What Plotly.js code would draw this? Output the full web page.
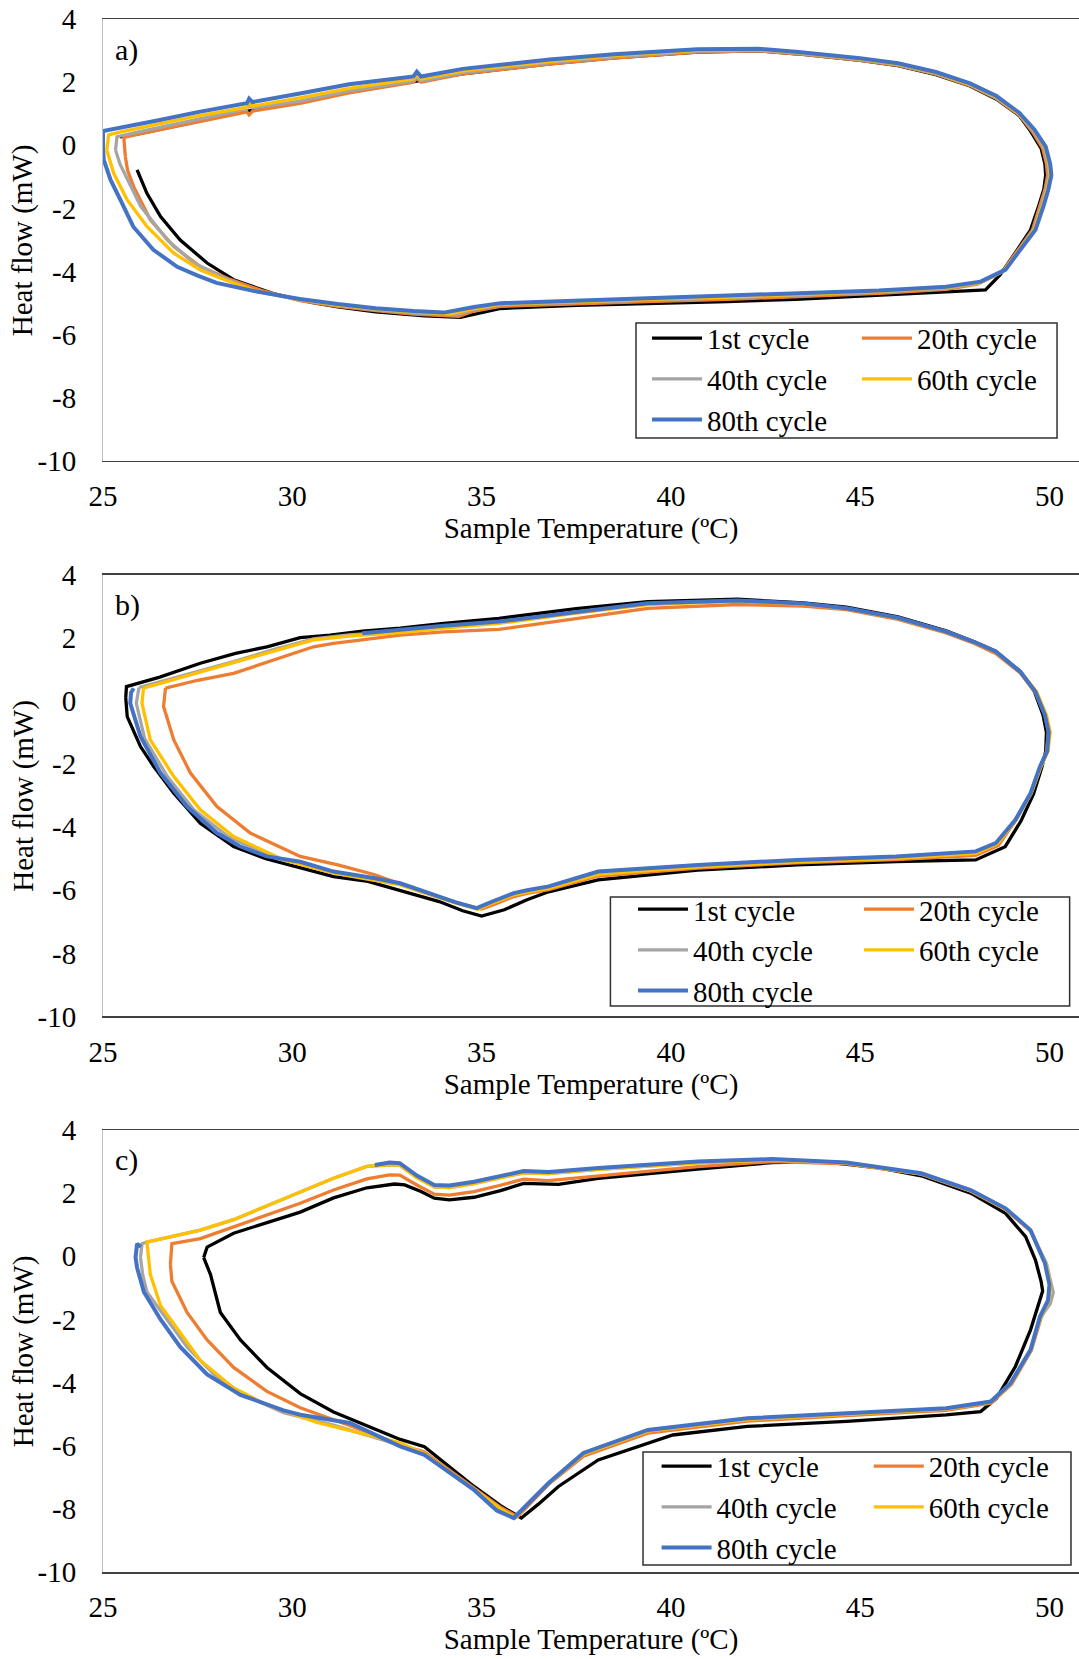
<!DOCTYPE html>
<html><head><meta charset="utf-8">
<script src="https://cdn.plot.ly/plotly-3.0.1.min.js"></script>
<style>html,body{margin:0;padding:0;background:#fff;} #chart{width:1079px;height:1659px;}</style>
</head><body><div id="chart"></div>
<script>
// ---------- labels ----------
const cycleNames = ['1st cycle', '20th cycle', '40th cycle', '60th cycle', '80th cycle'];
const cycleColors = ['#000000', '#ED7D31', '#A5A5A5', '#FFC000', '#4472C4'];
const xTickVals = [25, 30, 35, 40, 45, 50];
const xTickText = ['25', '30', '35', '40', '45', '50'];
const yTickVals = [-10, -8, -6, -4, -2, 0, 2, 4];
const yTickText = ['-10', '-8', '-6', '-4', '-2', '0', '2', '4'];
const panelLabels = ['a)', 'b)', 'c)'];
const xTitle = 'Sample Temperature (ºC)';
const yTitle = 'Heat flow (mW)';

// ---------- panel a ----------
const a1_T = [25.45, 26.0, 27.0, 28.0, 28.8, 30.2, 31.5, 33.2, 34.5, 36.8, 38.5, 40.7, 42.3, 43.3, 45.0, 46.0, 47.0, 47.9, 48.6, 49.2, 49.5, 49.78, 49.88, 49.9, 49.85, 49.72, 49.5, 49.1, 48.7, 48.31, 47.27, 45.5, 43.3, 41.5, 39.4, 37.5, 35.5, 35.0, 34.44, 33.5, 32.2, 31.2, 30.5, 29.5, 28.45, 27.75, 27.04, 26.52, 26.16, 25.9];
const a1_HF = [0.27, 0.38, 0.63, 0.88, 1.08, 1.36, 1.68, 2.02, 2.26, 2.58, 2.77, 2.95, 2.99, 2.9, 2.69, 2.52, 2.24, 1.88, 1.46, 0.94, 0.45, -0.1, -0.6, -0.95, -1.4, -1.9, -2.68, -3.4, -4.1, -4.58, -4.64, -4.75, -4.88, -4.95, -5.0, -5.07, -5.17, -5.3, -5.45, -5.4, -5.28, -5.12, -4.98, -4.7, -4.26, -3.73, -3.0, -2.26, -1.52, -0.78];

const a20_T = [25.59, 25.55, 26.0, 27.0, 28.0, 28.8, 28.86, 28.95, 30.2, 31.5, 33.2, 33.29, 33.4, 34.5, 36.8, 38.5, 40.7, 42.3, 43.3, 45.0, 46.0, 47.0, 47.9, 48.6, 49.2, 49.55, 49.82, 49.92, 49.95, 49.88, 49.75, 49.55, 49.15, 48.75, 48.1, 47.27, 45.5, 43.3, 41.5, 39.4, 37.5, 35.5, 34.8, 34.4, 33.2, 32.2, 31.2, 30.2, 29.2, 28.3, 27.57, 26.87, 26.25, 25.81, 25.65, 25.59];
const a20_HF = [-0.36, 0.25, 0.37, 0.62, 0.87, 1.06, 0.96, 1.08, 1.33, 1.66, 2.0, 2.12, 2.0, 2.26, 2.57, 2.76, 2.95, 2.99, 2.9, 2.69, 2.53, 2.25, 1.89, 1.48, 0.96, 0.43, -0.1, -0.6, -0.95, -1.4, -1.9, -2.68, -3.35, -4.01, -4.4, -4.56, -4.69, -4.8, -4.88, -4.95, -5.02, -5.1, -5.25, -5.42, -5.35, -5.24, -5.1, -4.92, -4.6, -4.22, -3.84, -3.21, -2.36, -1.31, -0.8, -0.36];

const a40_T = [25.33, 25.37, 26.0, 27.0, 28.0, 28.8, 28.86, 28.95, 30.2, 31.5, 33.2, 33.29, 33.4, 34.5, 36.8, 38.5, 40.7, 42.3, 43.3, 45.0, 46.0, 47.0, 47.9, 48.6, 49.2, 49.58, 49.86, 49.96, 49.99, 49.91, 49.79, 49.58, 49.2, 48.8, 48.14, 47.27, 45.5, 43.3, 41.5, 39.4, 37.5, 35.5, 34.8, 34.3, 33.2, 32.2, 31.2, 30.2, 29.0, 28.2, 27.4, 26.7, 26.0, 25.64, 25.45, 25.33];
const a40_HF = [-0.15, 0.27, 0.44, 0.7, 0.96, 1.15, 1.28, 1.18, 1.4, 1.72, 2.04, 2.18, 2.04, 2.3, 2.62, 2.8, 2.98, 3.01, 2.92, 2.71, 2.55, 2.27, 1.91, 1.5, 0.98, 0.45, -0.08, -0.6, -0.95, -1.4, -1.9, -2.68, -3.33, -3.98, -4.37, -4.53, -4.65, -4.75, -4.83, -4.9, -4.97, -5.05, -5.2, -5.37, -5.31, -5.21, -5.07, -4.9, -4.62, -4.2, -3.73, -3.0, -1.94, -1.1, -0.6, -0.15];

const a60_T = [25.1, 25.15, 25.5, 26.5, 27.5, 28.8, 28.86, 28.95, 30.2, 31.5, 33.2, 33.29, 33.4, 34.5, 36.8, 38.5, 40.7, 42.3, 43.3, 45.0, 46.0, 47.0, 47.9, 48.6, 49.2, 49.6, 49.88, 49.99, 50.02, 49.94, 49.82, 49.6, 49.21, 48.81, 48.16, 47.27, 45.5, 43.3, 41.5, 39.4, 37.5, 35.5, 34.8, 34.2, 33.2, 32.2, 31.2, 30.2, 29.0, 28.3, 27.57, 26.87, 26.16, 25.64, 25.28, 25.1];
const a60_HF = [-0.15, 0.33, 0.43, 0.68, 0.93, 1.2, 1.34, 1.24, 1.5, 1.8, 2.1, 2.24, 2.1, 2.36, 2.66, 2.84, 3.01, 3.03, 2.94, 2.73, 2.57, 2.29, 1.93, 1.53, 1.0, 0.47, -0.06, -0.6, -0.95, -1.4, -1.9, -2.68, -3.32, -3.96, -4.35, -4.51, -4.63, -4.73, -4.81, -4.88, -4.95, -5.03, -5.17, -5.34, -5.28, -5.19, -5.06, -4.89, -4.6, -4.3, -3.95, -3.42, -2.57, -1.73, -0.88, -0.15];

const a80_T = [25.02, 25.0, 25.0, 25.5, 26.5, 27.5, 28.8, 28.86, 28.95, 30.2, 31.5, 33.2, 33.29, 33.4, 34.5, 36.8, 38.5, 40.7, 42.3, 43.3, 45.0, 46.0, 47.0, 47.9, 48.6, 49.2, 49.6, 49.9, 50.02, 50.05, 49.97, 49.85, 49.63, 49.23, 48.84, 48.18, 47.27, 45.5, 43.3, 41.5, 39.4, 37.5, 35.5, 34.8, 34.0, 33.2, 32.2, 31.2, 30.2, 29.0, 28.0, 27.5, 26.96, 26.33, 25.8, 25.46, 25.2, 25.02];
const a80_HF = [-0.46, -0.1, 0.45, 0.56, 0.8, 1.05, 1.33, 1.48, 1.37, 1.64, 1.93, 2.18, 2.33, 2.18, 2.42, 2.72, 2.88, 3.04, 3.06, 2.96, 2.76, 2.6, 2.32, 1.96, 1.56, 1.03, 0.5, -0.04, -0.6, -0.95, -1.4, -1.9, -2.68, -3.31, -3.94, -4.32, -4.48, -4.6, -4.69, -4.77, -4.85, -4.92, -5.0, -5.12, -5.3, -5.25, -5.16, -5.03, -4.87, -4.62, -4.36, -4.13, -3.85, -3.31, -2.58, -1.73, -1.1, -0.46];

// ---------- panel b ----------
const b1_T = [25.6, 25.62, 26.5, 27.57, 28.5, 29.33, 30.21, 31.0, 31.85, 32.85, 34.0, 35.46, 37.5, 39.39, 41.76, 43.5, 44.64, 46.0, 47.27, 48.0, 48.58, 49.23, 49.6, 49.83, 49.92, 49.9, 49.8, 49.58, 49.25, 48.83, 48.05, 45.95, 43.33, 40.71, 38.08, 36.77, 36.2, 35.6, 35.0, 34.5, 33.88, 32.85, 32.0, 31.09, 30.2, 29.3, 28.45, 27.57, 26.87, 26.34, 25.99, 25.64, 25.6];
const b1_HF = [0.1, 0.45, 0.75, 1.19, 1.5, 1.71, 2.0, 2.08, 2.21, 2.3, 2.45, 2.61, 2.92, 3.14, 3.22, 3.1, 2.97, 2.66, 2.22, 1.88, 1.57, 0.93, 0.3, -0.45, -1.0, -1.6, -2.1, -2.95, -3.8, -4.62, -5.04, -5.09, -5.2, -5.36, -5.67, -6.05, -6.3, -6.62, -6.82, -6.65, -6.36, -6.0, -5.72, -5.57, -5.3, -5.0, -4.62, -3.88, -2.93, -2.08, -1.45, -0.5, 0.1];

const b20_T = [26.65, 27.5, 28.45, 29.5, 30.56, 31.09, 32.85, 34.0, 35.46, 37.5, 39.39, 41.76, 43.5, 44.64, 46.0, 47.27, 48.0, 48.58, 49.23, 49.63, 49.88, 49.97, 49.92, 49.76, 49.5, 49.1, 48.65, 48.05, 45.95, 43.33, 40.71, 38.08, 36.77, 36.2, 35.85, 35.4, 35.0, 34.5, 33.49, 32.18, 31.2, 30.21, 28.89, 28.01, 27.31, 26.87, 26.6, 26.65];
const b20_HF = [0.4, 0.65, 0.87, 1.3, 1.71, 1.82, 2.08, 2.18, 2.26, 2.6, 2.93, 3.05, 3.0, 2.89, 2.58, 2.15, 1.82, 1.5, 0.88, 0.25, -0.45, -1.0, -1.6, -2.08, -2.95, -3.8, -4.58, -4.9, -5.03, -5.13, -5.3, -5.55, -5.98, -6.1, -6.2, -6.42, -6.6, -6.45, -6.08, -5.51, -5.2, -4.93, -4.19, -3.35, -2.29, -1.24, -0.18, 0.4];

const b40_T = [25.95, 27.0, 28.45, 29.5, 30.56, 31.5, 32.85, 34.0, 35.46, 37.5, 39.39, 41.76, 43.5, 44.64, 46.0, 47.27, 48.0, 48.58, 49.23, 49.64, 49.9, 49.99, 49.95, 49.76, 49.51, 49.11, 48.6, 48.05, 45.95, 43.33, 40.71, 38.08, 36.77, 36.2, 35.85, 35.3, 34.88, 34.3, 33.5, 32.85, 31.09, 29.6, 28.3, 27.4, 26.7, 26.1, 25.88, 25.95];
const b40_HF = [0.42, 0.76, 1.24, 1.62, 1.96, 2.09, 2.2, 2.33, 2.48, 2.8, 3.07, 3.17, 3.07, 2.93, 2.62, 2.19, 1.87, 1.56, 0.92, 0.29, -0.45, -1.0, -1.6, -2.08, -2.93, -3.77, -4.52, -4.8, -4.96, -5.07, -5.23, -5.45, -5.91, -6.03, -6.12, -6.38, -6.58, -6.39, -6.06, -5.8, -5.43, -5.0, -4.3, -3.45, -2.4, -1.2, -0.08, 0.42];

const b60_T = [26.07, 27.0, 28.45, 29.5, 30.56, 31.5, 32.85, 34.0, 35.46, 37.5, 39.39, 41.76, 43.5, 44.64, 46.0, 47.27, 48.0, 48.58, 49.23, 49.66, 49.92, 50.02, 49.96, 49.78, 49.52, 49.12, 48.62, 48.05, 45.95, 43.33, 40.71, 38.08, 36.77, 36.2, 35.85, 35.3, 34.9, 34.3, 33.5, 32.85, 31.09, 29.77, 28.45, 27.57, 26.87, 26.25, 26.03, 26.07];
const b60_HF = [0.4, 0.72, 1.2, 1.58, 1.93, 2.05, 2.16, 2.3, 2.45, 2.78, 3.05, 3.16, 3.06, 2.92, 2.61, 2.18, 1.86, 1.55, 0.92, 0.29, -0.45, -1.0, -1.6, -2.08, -2.93, -3.77, -4.53, -4.83, -4.99, -5.1, -5.26, -5.5, -5.94, -6.06, -6.15, -6.4, -6.6, -6.4, -6.08, -5.83, -5.46, -5.04, -4.3, -3.45, -2.4, -1.24, -0.08, 0.4];

const b80_T = [31.85, 33.0, 34.0, 35.46, 37.5, 39.39, 41.76, 43.5, 44.64, 46.0, 47.27, 48.0, 48.58, 49.23, 49.63, 49.88, 49.98, 49.94, 49.75, 49.5, 49.1, 48.58, 48.05, 45.95, 43.33, 40.71, 38.08, 36.77, 36.2, 35.85, 35.3, 34.87, 34.3, 33.5, 32.85, 32.18, 31.09, 30.21, 29.33, 28.6, 28.01, 27.22, 26.52, 25.99, 25.72, 25.74, 25.81];
const b80_HF = [2.14, 2.28, 2.38, 2.51, 2.82, 3.09, 3.18, 3.08, 2.93, 2.63, 2.19, 1.87, 1.56, 0.92, 0.29, -0.45, -1.0, -1.6, -2.08, -2.93, -3.77, -4.51, -4.77, -4.93, -5.04, -5.2, -5.41, -5.88, -6.0, -6.09, -6.35, -6.57, -6.38, -6.05, -5.78, -5.62, -5.41, -5.1, -4.93, -4.6, -4.19, -3.35, -2.29, -1.13, -0.08, 0.25, 0.4];

// ---------- panel c ----------
const c1_T = [27.66, 27.75, 28.45, 29.33, 30.21, 31.09, 31.97, 32.7, 32.97, 33.4, 33.75, 34.15, 34.8, 35.5, 36.11, 37.03, 38.08, 40.71, 42.68, 43.99, 45.5, 46.61, 47.92, 48.84, 49.37, 49.63, 49.78, 49.82, 49.75, 49.5, 49.1, 48.6, 48.18, 47.27, 44.64, 42.02, 40.05, 38.08, 37.03, 36.5, 36.05, 35.5, 34.8, 33.49, 32.85, 31.97, 31.09, 30.21, 29.33, 28.63, 28.1, 27.84, 27.66];
const c1_HF = [-0.04, 0.29, 0.73, 1.06, 1.4, 1.85, 2.17, 2.29, 2.26, 2.05, 1.84, 1.79, 1.87, 2.08, 2.31, 2.28, 2.47, 2.76, 2.97, 3.0, 2.8, 2.55, 2.0, 1.36, 0.62, -0.12, -0.8, -1.1, -1.38, -2.33, -3.49, -4.5, -4.92, -5.02, -5.23, -5.39, -5.66, -6.45, -7.29, -7.85, -8.29, -7.9, -7.29, -6.03, -5.8, -5.37, -4.93, -4.35, -3.52, -2.65, -1.78, -0.58, -0.04];

const c20_T = [26.78, 26.82, 27.57, 28.45, 29.33, 30.21, 31.09, 31.97, 32.57, 32.84, 33.3, 33.75, 34.15, 34.8, 35.5, 36.11, 36.77, 38.08, 40.71, 42.68, 44.64, 46.61, 47.92, 48.84, 49.5, 49.9, 50.02, 49.98, 49.78, 49.52, 49.0, 48.45, 47.27, 44.64, 42.02, 39.39, 37.69, 36.77, 36.3, 35.95, 35.5, 34.8, 33.49, 32.85, 31.53, 30.21, 29.33, 28.45, 27.75, 27.22, 26.82, 26.78];
const c20_HF = [-0.25, 0.4, 0.56, 0.94, 1.32, 1.68, 2.1, 2.45, 2.58, 2.57, 2.25, 1.97, 1.94, 2.05, 2.25, 2.44, 2.4, 2.55, 2.84, 3.0, 2.93, 2.6, 2.06, 1.48, 0.8, -0.25, -0.9, -1.4, -1.95, -2.98, -4.05, -4.65, -4.88, -5.05, -5.22, -5.6, -6.33, -7.22, -7.8, -8.25, -7.95, -7.35, -6.2, -5.97, -5.37, -4.8, -4.28, -3.52, -2.65, -1.78, -0.79, -0.25];

const c40_T = [25.99, 26.03, 26.16, 27.57, 28.45, 29.33, 30.21, 31.09, 31.97, 32.3, 32.6, 32.84, 33.3, 33.75, 34.15, 34.8, 35.5, 36.11, 36.77, 38.08, 40.71, 42.68, 44.64, 46.61, 47.92, 48.84, 49.5, 49.92, 50.06, 50.1, 50.02, 49.77, 49.5, 48.98, 48.45, 47.27, 44.64, 42.02, 39.39, 37.69, 36.77, 36.3, 35.88, 35.5, 34.8, 33.49, 32.85, 31.09, 29.77, 28.83, 28.01, 27.22, 26.69, 26.16, 26.05, 25.99];
const c40_HF = [-0.04, 0.4, 0.45, 0.83, 1.16, 1.6, 2.03, 2.47, 2.85, 2.88, 2.9, 2.88, 2.5, 2.2, 2.18, 2.3, 2.5, 2.64, 2.62, 2.75, 2.96, 3.05, 2.95, 2.61, 2.08, 1.5, 0.81, -0.22, -0.9, -1.15, -1.5, -1.92, -2.97, -4.03, -4.62, -4.84, -5.0, -5.17, -5.54, -6.27, -7.2, -7.75, -8.28, -8.0, -7.38, -6.25, -5.98, -5.35, -4.95, -4.45, -3.84, -2.87, -2.0, -1.13, -0.6, -0.04];

const c60_T = [26.25, 26.16, 27.57, 28.45, 29.33, 30.21, 31.09, 31.97, 32.3, 32.6, 32.84, 33.3, 33.75, 34.15, 34.8, 35.5, 36.11, 36.77, 38.08, 40.71, 42.68, 44.64, 46.61, 47.92, 48.84, 49.5, 49.9, 50.03, 49.98, 49.77, 49.5, 48.98, 48.45, 47.27, 44.64, 42.02, 39.39, 37.69, 36.77, 36.3, 35.9, 35.5, 34.8, 33.49, 32.85, 30.65, 29.33, 28.45, 27.57, 27.04, 26.52, 26.25];
const c60_HF = [-0.58, 0.45, 0.83, 1.16, 1.6, 2.03, 2.47, 2.85, 2.88, 2.9, 2.88, 2.48, 2.2, 2.18, 2.3, 2.48, 2.64, 2.62, 2.75, 2.96, 3.05, 2.95, 2.61, 2.08, 1.5, 0.81, -0.22, -0.9, -1.4, -1.92, -2.97, -4.03, -4.62, -4.84, -5.0, -5.17, -5.54, -6.27, -7.2, -7.75, -8.28, -8.0, -7.38, -6.25, -5.91, -5.26, -4.71, -4.17, -3.3, -2.43, -1.56, -0.58];

const c80_T = [32.18, 32.57, 32.84, 33.3, 33.75, 34.15, 34.8, 35.5, 36.11, 36.77, 38.08, 40.71, 42.68, 44.64, 46.61, 47.92, 48.84, 49.5, 49.88, 50.0, 49.96, 49.75, 49.5, 48.97, 48.45, 47.27, 44.64, 42.02, 39.39, 37.69, 36.77, 36.3, 35.85, 35.4, 34.8, 33.49, 32.85, 31.52, 30.21, 29.77, 28.63, 27.75, 27.04, 26.52, 26.08, 25.9, 25.86, 25.9, 26.0];
const c80_HF = [2.89, 2.97, 2.95, 2.55, 2.26, 2.24, 2.36, 2.55, 2.7, 2.67, 2.8, 3.0, 3.08, 2.97, 2.63, 2.1, 1.52, 0.83, -0.22, -0.9, -1.4, -1.91, -2.96, -4.02, -4.6, -4.81, -4.97, -5.13, -5.5, -6.23, -7.18, -7.75, -8.29, -8.05, -7.4, -6.29, -6.02, -5.28, -5.02, -4.88, -4.39, -3.74, -2.87, -2.0, -1.13, -0.36, -0.04, 0.4, 0.3];

// ---------- build ----------
const FONT = 'Liberation Serif';
const panelData = [
  {T: [a1_T, a20_T, a40_T, a60_T, a80_T], HF: [a1_HF, a20_HF, a40_HF, a60_HF, a80_HF]},
  {T: [b1_T, b20_T, b40_T, b60_T, b80_T], HF: [b1_HF, b20_HF, b40_HF, b60_HF, b80_HF]},
  {T: [c1_T, c20_T, c40_T, c60_T, c80_T], HF: [c1_HF, c20_HF, c40_HF, c60_HF, c80_HF]}
];

const traces = [];
panelData.forEach((p, pi) => {
  const sfx = pi === 0 ? '' : String(pi + 1);
  const leg1 = pi === 0 ? 'legend' : 'legend' + (2 * pi + 1);
  const leg2 = 'legend' + (2 * pi + 2);
  for (let i = 0; i < 5; i++) {
    traces.push({
      type: 'scatter', mode: 'lines',
      x: p.T[i], y: p.HF[i],
      xaxis: 'x' + sfx, yaxis: 'y' + sfx,
      name: cycleNames[i],
      line: {color: cycleColors[i], width: i === 4 ? 4 : 3.3},
      legend: (i % 2 === 0) ? leg1 : leg2,
      showlegend: true, hoverinfo: 'skip'
    });
  }
});

const domains = [[0.7154, 1], [0.3577, 0.6423], [0, 0.2846]];
function xAxis(anchor) {
  return {
    anchor: anchor, domain: [0, 1], range: [25, 50.78],
    tickmode: 'array', tickvals: xTickVals, ticktext: xTickText,
    ticks: '', showgrid: false, zeroline: false,
    showline: true, mirror: true, linecolor: '#404040', linewidth: 1.5,
    tickfont: {family: FONT, size: 29, color: '#000'}, ticklabelstandoff: 9,
    title: {text: xTitle, font: {family: FONT, size: 29, color: '#000'}, standoff: 3},
    automargin: false, fixedrange: true
  };
}
function yAxis(anchor, dom) {
  return {
    anchor: anchor, domain: dom, range: [-10, 4],
    tickmode: 'array', tickvals: yTickVals, ticktext: yTickText,
    ticks: '', showgrid: false, zeroline: false,
    showline: true, linecolor: '#BFBFBF', linewidth: 1,
    tickfont: {family: FONT, size: 29, color: '#000'}, ticklabelstandoff: 20,
    automargin: false, fixedrange: true
  };
}
function mkLegend(x, y) {
  return {x: x, y: y, xref: 'paper', yref: 'paper', xanchor: 'left', yanchor: 'top',
    orientation: 'v', bgcolor: 'rgba(0,0,0,0)', borderwidth: 0, itemwidth: 50,
    tracegroupgap: 0, traceorder: 'normal', font: {family: FONT, size: 29, color: '#000'}};
}
function box(x0, x1, y0, y1) {
  return {type: 'rect', xref: 'paper', yref: 'paper', x0: x0, x1: x1, y0: y0, y1: y1,
    line: {color: '#303030', width: 1.5}, fillcolor: '#ffffff', layer: 'above'};
}
function label(text, y) {
  return {text: text, xref: 'paper', yref: 'paper', x: 0.0107, y: y, xanchor: 'left', yanchor: 'middle',
    showarrow: false, font: {family: FONT, size: 30, color: '#000'}};
}
function yLabel(y) {
  return {text: yTitle, xref: 'paper', yref: 'paper', x: -0.0817, y: y, xanchor: 'center', yanchor: 'middle',
    textangle: -90, showarrow: false, font: {family: FONT, size: 29, color: '#000'}};
}

const layout = {
  width: 1079, height: 1659,
  margin: {l: 103, r: 0, t: 19, b: 87, autoexpand: false},
  paper_bgcolor: '#ffffff', plot_bgcolor: '#ffffff',
  font: {family: FONT, color: '#000'},
  showlegend: true,
  xaxis: xAxis('y'), yaxis: yAxis('x', domains[0]),
  xaxis2: xAxis('y2'), yaxis2: yAxis('x2', domains[1]),
  xaxis3: xAxis('y3'), yaxis3: yAxis('x3', domains[2]),
  legend: mkLegend(0.5574, 0.8108), legend2: mkLegend(0.7725, 0.8108),
  legend3: mkLegend(0.543, 0.4431), legend4: mkLegend(0.7746, 0.4431),
  legend5: mkLegend(0.5672, 0.0845), legend6: mkLegend(0.7846, 0.0845),
  shapes: [
    box(0.5461, 0.9775, 0.7302, 0.8043),
    box(0.5199, 0.9904, 0.3645, 0.4346),
    box(0.5533, 0.9918, 0.0045, 0.0773)
  ],
  annotations: [
    label(panelLabels[0], 0.98), label(panelLabels[1], 0.6227), label(panelLabels[2], 0.2653),
    yLabel(0.8577), yLabel(0.5), yLabel(0.1423)
  ]
};

Plotly.newPlot('chart', traces, layout, {staticPlot: true, displayModeBar: false});
</script>
</body></html>
